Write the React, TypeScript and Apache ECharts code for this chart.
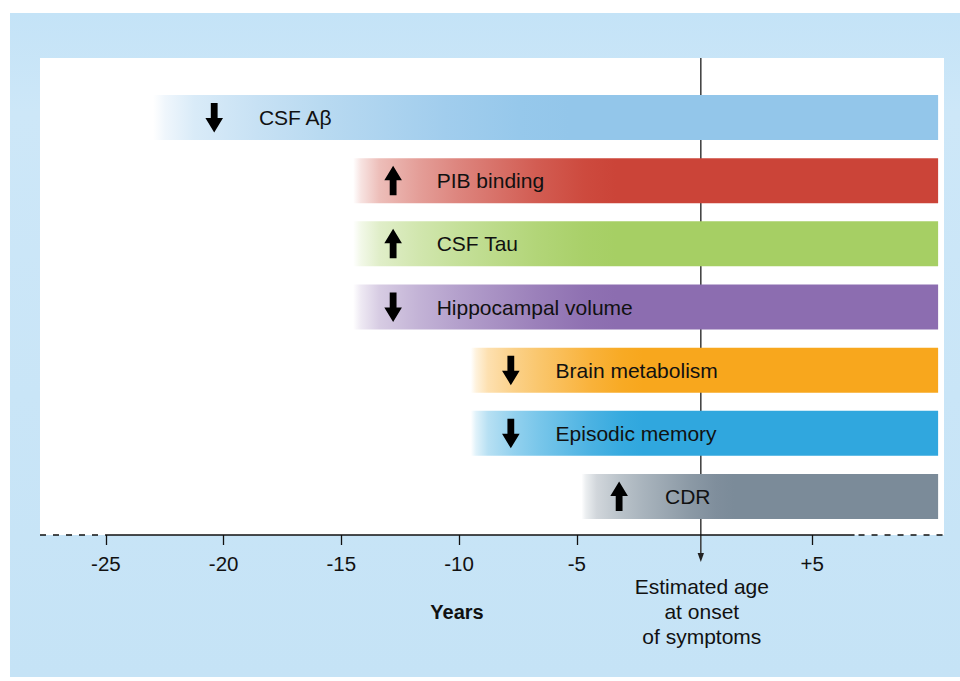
import React, { useEffect, useRef } from 'react';
import * as echarts from 'echarts';

const MARKERS = ['CSF Aβ', 'PIB binding', 'CSF Tau', 'Hippocampal volume', 'Brain metabolism', 'Episodic memory', 'CDR'];
const START_YEARS = [-23.0, -14.5, -14.5, -14.5, -9.5, -9.5, -4.8];
const END_YEARS = [10.35, 10.35, 10.35, 10.35, 10.35, 10.35, 10.35];
const DIRECTIONS = ['down', 'up', 'up', 'down', 'down', 'down', 'up'];
const ARROW_YEARS = [-20.4, -12.8, -12.8, -12.8, -7.8, -7.8, -3.2];
const LABEL_YEARS = [-18.5, -10.95, -10.95, -10.95, -5.9, -5.9, -1.25];
const COLORS = ['#93c6ea', '#cb4438', '#a6cf64', '#8c6db0', '#f8a71d', '#30a7de', '#7b8b99'];
const TICK_VALUES = [-25, -20, -15, -10, -5, 5];
const ONSET_YEAR = 0.27;
const AXIS_SOLID_RANGE = [-25, 6.8];

const X_MIN = -27.8;
const X_MAX = 10.6;
const Y_MIN = -0.942;
const Y_MAX = 6.609;
const BAR_HALF = 0.356;
const FONT = '"Liberation Sans", Arial, Helvetica, sans-serif';
const GRAD_STOPS = [[0, 0], [0.03, 0.15], [0.1, 0.35], [0.25, 0.52], [0.4, 0.65], [0.7, 0.87], [0.88, 0.97], [1, 1]];

function mix(hex: string, t: number): string {
  const n = parseInt(hex.slice(1), 16);
  const r = (n >> 16) & 255, g = (n >> 8) & 255, b = n & 255;
  const m = (c: number) => Math.round(255 + (c - 255) * t);
  return `rgb(${m(r)},${m(g)},${m(b)})`;
}

export default function App() {
  const ref = useRef<HTMLDivElement>(null);
  useEffect(() => {
    if (!ref.current) return;
    const chart = echarts.init(ref.current, undefined, { renderer: 'svg' });
    const rows = MARKERS.map((m, i) => [i, START_YEARS[i], END_YEARS[i], ARROW_YEARS[i], LABEL_YEARS[i]]);

    const option: any = {
      animation: false,
      backgroundColor: '#ffffff',
      graphic: {
        elements: [
          {
            type: 'rect', z: -10, shape: { x: 10, y: 13, width: 950, height: 664 },
            style: {
              fill: new echarts.graphic.LinearGradient(0, 0, 0, 1, [
                { offset: 0, color: '#c4e3f7' },
                { offset: 0.15, color: '#cde7f8' },
                { offset: 1, color: '#c5e3f6' },
              ]),
            },
          },
          { type: 'rect', z: -9, shape: { x: 40, y: 58, width: 904, height: 477 }, style: { fill: '#ffffff' } },
          {
            type: 'text', z: 5, x: 457, y: 612,
            style: { text: 'Years', fontSize: 20, fontWeight: 'bold', fontFamily: FONT, fill: '#111', align: 'center', verticalAlign: 'middle' },
          },
        ],
      },
      grid: { left: 40, right: 16, top: 58, bottom: 146, show: false },
      xAxis: {
        type: 'value',
        min: X_MIN,
        max: X_MAX,
        splitLine: { show: false },
        axisLine: { show: false, onZero: false },
        axisTick: { show: true, customValues: TICK_VALUES, length: 10, lineStyle: { color: '#111', width: 1.3 } },
        axisLabel: {
          show: true,
          customValues: TICK_VALUES,
          margin: 18,
          fontSize: 20.5,
          fontFamily: FONT,
          color: '#111',
          formatter: (v: number) => (v > 0 ? '+' + v : String(v)),
        },
      },
      yAxis: { type: 'value', min: Y_MIN, max: Y_MAX, inverse: true, show: false },
      series: [
        {
          type: 'custom',
          name: 'onset',
          z: 1,
          data: [[ONSET_YEAR]],
          encode: { x: 0 },
          renderItem: (params: any, api: any) => {
            const v = api.value(0);
            const top = api.coord([v, Y_MIN]);
            const bottom = api.coord([v, Y_MAX]);
            const x = top[0];
            const yb = bottom[1];
            return {
              type: 'group',
              children: [
                { type: 'line', shape: { x1: x, y1: top[1], x2: x, y2: yb + 20 }, style: { stroke: '#3a3a3a', lineWidth: 1.5 } },
                { type: 'polygon', shape: { points: [[x - 3.2, yb + 18], [x + 3.2, yb + 18], [x, yb + 27]] }, style: { fill: '#222' } },
                {
                  type: 'text',
                  style: {
                    text: 'Estimated age\nat onset\nof symptoms', x: x + 1, y: yb + 76.5, align: 'center', verticalAlign: 'middle',
                    fontSize: 21, lineHeight: 25, fontFamily: FONT, fill: '#111',
                  },
                },
              ],
            };
          },
        },
        {
          type: 'custom',
          name: 'axis',
          z: 4,
          data: [AXIS_SOLID_RANGE],
          encode: { x: [0, 1] },
          renderItem: (params: any, api: any) => {
            const pa = api.coord([X_MIN, Y_MAX]);
            const p0 = api.coord([api.value(0), Y_MAX]);
            const p1 = api.coord([api.value(1), Y_MAX]);
            const pb = api.coord([X_MAX, Y_MAX]);
            const y = Math.round(p0[1]);
            const st = { stroke: '#111', lineWidth: 1.3 };
            return {
              type: 'group',
              children: [
                { type: 'line', shape: { x1: pa[0], y1: y, x2: p0[0], y2: y }, style: { ...st, lineDash: [6, 7] } },
                { type: 'line', shape: { x1: p0[0], y1: y, x2: p1[0], y2: y }, style: st },
                { type: 'line', shape: { x1: p1[0] + 4, y1: y, x2: pb[0], y2: y }, style: { ...st, lineDash: [6, 7] } },
              ],
            };
          },
        },
        {
          type: 'custom',
          name: 'markers',
          z: 3,
          data: rows,
          encode: { x: [1, 2], y: 0 },
          renderItem: (params: any, api: any) => {
            const i = api.value(0);
            const s = api.value(1), e = api.value(2), a = api.value(3), l = api.value(4);
            const pTop = api.coord([s, i - BAR_HALF]);
            const pBot = api.coord([e, i + BAR_HALF]);
            const cy = api.coord([s, i])[1];
            const w = pBot[0] - pTop[0];
            const h = pBot[1] - pTop[1];
            const fullX = api.coord([s + Math.max(6.5, -s * 0.77), i])[0];
            const sf = Math.min(1, (fullX - pTop[0]) / w);
            const color = COLORS[i];
            const stops = GRAD_STOPS.map(([f, t]) => ({ offset: f * sf, color: mix(color, t) }));
            stops.push({ offset: 1, color });
            const fill = new echarts.graphic.LinearGradient(0, 0, 1, 0, stops);
            const ax = api.coord([a, i])[0];
            const down = DIRECTIONS[i] === 'down';
            const d = down ? 1 : -1;
            const pts = [
              [ax - 3.4, cy - 14.5 * d],
              [ax + 3.4, cy - 14.5 * d],
              [ax + 3.4, cy + 0.5 * d],
              [ax + 8.8, cy + 0.5 * d],
              [ax, cy + 15 * d],
              [ax - 8.8, cy + 0.5 * d],
              [ax - 3.4, cy + 0.5 * d],
            ];
            const lx = api.coord([l, i])[0];
            return {
              type: 'group',
              children: [
                { type: 'rect', shape: { x: pTop[0], y: pTop[1], width: w, height: h }, style: { fill } },
                { type: 'polygon', shape: { points: pts }, style: { fill: '#000' } },
                {
                  type: 'text',
                  style: { text: MARKERS[i], x: lx, y: cy, align: 'left', verticalAlign: 'middle', fontSize: 21, fontFamily: FONT, fill: '#111' },
                },
              ],
            };
          },
        },
      ],
    };
    chart.setOption(option);
    return () => chart.dispose();
  }, []);
  return <div ref={ref} style={{ position: 'fixed', left: 0, top: 0, width: 960, height: 681 }} />;
}
